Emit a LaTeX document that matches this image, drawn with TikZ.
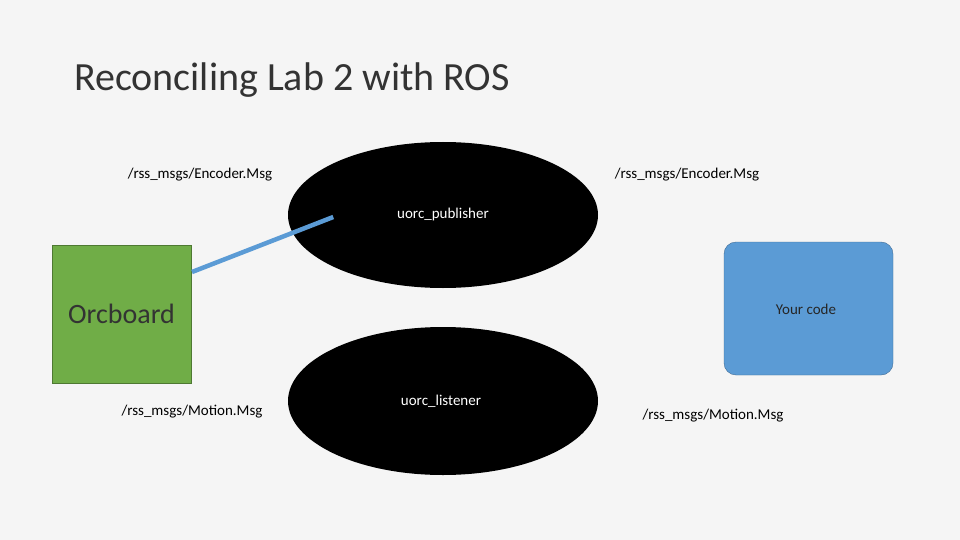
\documentclass[tikz,border=0pt]{standalone}
\usepackage{fontspec}
\setmainfont{Carlito}
\usetikzlibrary{shapes.geometric,arrows.meta}
\definecolor{okgreen}{RGB}{112,173,71}
\definecolor{okblue}{RGB}{91,155,213}
\tikzset{
	blob/.style={ellipse,fill=black,text=white,minimum width=310,minimum height=146,inner sep=0pt,font=\fontsize{15}{18}\selectfont},
	topic/.style={font=\fontsize{15}{18}\selectfont,inner sep=0pt},
	msg/.style={line width=4.5,-{Triangle[length=14,width=14]}},
}
\begin{document}
\begin{tikzpicture}[x=1pt,y=1pt,yscale=-1]
	\fill[gray!8] (0,0) rectangle (960,540);
	\useasboundingbox (0,0) rectangle (960,540);

	% Title
	\node[anchor=west,inner sep=0pt,font=\fontsize{40}{44}\selectfont,text=black!80] (title) at (74,80) {Reconciling Lab 2 with ROS};

	% Nodes
	\node[blob] (pub) at (443,215) {uorc\_publisher};
	\node[blob,minimum height=148] (lis) at (443,401) {};
	\node[topic,text=white] (listxt) at (441,401) {uorc\_listener};
	\node[draw=okgreen!70!black,fill=okgreen,minimum width=139,minimum height=138,inner sep=0pt,font=\fontsize{28}{32}\selectfont,text=black!80] (orc) at (121.5,314) {Orcboard};
	\node[draw=okblue!70!black,fill=okblue,rounded corners=12,minimum width=169,minimum height=133,inner sep=0pt] (code) at (808.5,308.5) {};
	\node[topic,text=black!85] (codetxt) at (806,309) {Your code};

	% Topic labels
	\node[topic] (enc1) at (200,175) {/rss\_msgs/Encoder.Msg};
	\node[topic] (enc2) at (687,175) {/rss\_msgs/Encoder.Msg};
	\node[topic] (mot1) at (192,412) {/rss\_msgs/Motion.Msg};
	\node[topic] (mot2) at (713,416) {/rss\_msgs/Motion.Msg};

	% Connections
	\coordinate (a1) at (192,272);
	\coordinate (a2) at (193,360);
	\coordinate (a3) at (718,272);
	\coordinate (a4) at (720,345);
	\draw[msg,okblue] (a1) -- (pub.south west |- 0,217) -- cycle;
\end{tikzpicture}
\end{document}
